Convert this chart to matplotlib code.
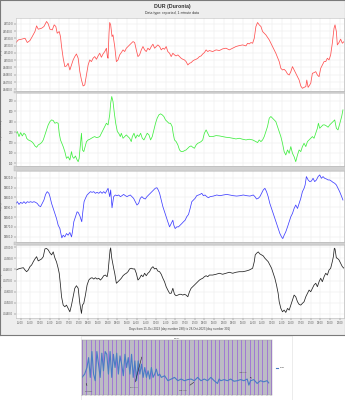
import matplotlib
matplotlib.use("Agg")
import matplotlib.pyplot as plt
from matplotlib.ticker import FixedLocator, MultipleLocator
from matplotlib.patches import Rectangle

# ---------------- data ----------------
title = "DUR (Duronia)"
subtitle = "Data type: reported, 1-minute data"
xlabel = "Days from 15-Oct-2023 (day number 288) to 28-Oct-2023 (day number 301)"

tick_hours = [4.8, 14.8, 24.8, 34.8, 44.8, 54.8, 64.8, 74.8, 84.8, 94.8, 104.8, 114.8,
              124.8, 134.8, 144.8, 154.8, 164.8, 174.8, 184.8, 194.8, 204.8, 214.8,
              224.8, 234.8, 244.8, 254.8, 264.8, 274.8, 284.8, 294.8, 304.8, 314.8,
              324.8, 334.8]
tick_labels = ["05:00", "15:00", "01:00", "11:00", "21:00", "07:00", "17:00", "03:00",
               "13:00", "23:00", "09:00", "19:00", "05:00", "15:00", "01:00", "11:00",
               "21:00", "07:00", "17:00", "03:00", "13:00", "23:00", "09:00", "19:00",
               "05:00", "15:00", "01:00", "11:00", "21:00", "07:00", "17:00", "03:00",
               "13:00", "23:00"]

H_hours = [0.0, 2.4, 5.8, 9.3, 11.7, 14.4, 16.8, 19.6, 21.3, 23.0, 26.5, 28.9, 31.6, 33.3,
           35.1, 37.5, 39.5, 41.2, 42.6, 44.7, 46.0, 47.1, 48.8, 50.5, 52.2, 53.9, 55.7,
           57.4, 59.1, 60.8, 62.5, 64.3, 66.0, 67.7, 69.4, 71.1, 72.9, 74.6, 76.3, 78.0,
           79.7, 81.4, 83.2, 84.9, 86.6, 88.3, 90.0, 91.8, 93.5, 94.5, 95.2, 96.2, 96.9,
           97.9, 99.3, 100.3, 102.1, 103.8, 105.5, 107.2, 108.9, 110.7, 112.4, 114.1,
           115.8, 117.5, 119.2, 121.0, 122.7, 124.4, 126.1, 127.8, 129.6, 131.3, 133.0,
           134.7, 136.4, 138.1, 139.9, 141.6, 143.3, 145.0, 146.7, 148.5, 150.2, 151.9,
           153.6, 155.3, 157.0, 158.8, 160.5, 162.2, 163.9, 165.6, 167.4, 169.1, 170.8,
           172.5, 174.2, 175.9, 177.7, 179.4, 181.1, 182.8, 184.5, 186.3, 188.0, 189.7,
           191.4, 193.1, 194.8, 196.6, 198.3, 200.0, 203.4, 206.9, 210.3, 213.7, 217.2,
           220.6, 224.1, 227.5, 230.9, 234.4, 237.8, 239.5, 241.2, 243.0, 244.7, 246.4,
           248.1, 249.8, 251.5, 253.3, 255.0, 258.4, 261.9, 265.3, 268.7, 272.2, 273.9,
           275.6, 277.3, 279.0, 280.8, 282.5, 284.2, 285.9, 287.6, 289.3, 291.1, 292.8,
           294.5, 296.2, 297.9, 299.7, 300.7, 302.1, 304.8, 306.5, 308.2, 310.0, 311.7,
           313.4, 315.1, 316.8, 318.6, 320.3, 322.0, 323.7, 325.4, 327.1, 328.9, 329.9,
           331.3, 332.3, 334.0, 335.7, 337.5, 339.2]
H_nT = [24524.3, 24527.9, 24528.9, 24530.2, 24524.3, 24527.0, 24532.5, 24539.4, 24547.2,
        24542.6, 24544.0, 24546.3, 24553.2, 24550.0, 24542.6, 24541.7, 24548.6, 24546.3,
        24537.1, 24539.4, 24532.5, 24518.8, 24502.7, 24491.2, 24492.1, 24495.8, 24486.6,
        24493.5, 24500.4, 24505.0, 24508.6, 24502.7, 24484.3, 24472.8, 24464.6, 24466.0,
        24479.7, 24493.5, 24500.4, 24498.1, 24502.7, 24505.0, 24501.3, 24505.9, 24509.6,
        24504.1, 24508.6, 24511.9, 24516.5, 24505.0, 24502.7, 24537.1, 24551.8, 24548.6,
        24532.5, 24534.8, 24518.8, 24498.1, 24500.4, 24507.3, 24510.5, 24514.2, 24511.9,
        24516.5, 24518.8, 24521.0, 24523.3, 24525.6, 24524.3, 24514.2, 24505.0, 24507.3,
        24514.2, 24518.8, 24514.2, 24511.9, 24516.5, 24514.2, 24518.8, 24522.0, 24516.5,
        24518.8, 24521.0, 24518.8, 24514.2, 24516.5, 24515.1, 24518.8, 24511.9, 24509.6,
        24505.0, 24509.6, 24507.3, 24505.9, 24507.3, 24505.0, 24502.7, 24501.3, 24500.4,
        24498.1, 24493.5, 24495.8, 24496.7, 24499.0, 24500.4, 24501.3, 24502.7, 24505.0,
        24505.9, 24508.6, 24510.5, 24514.2, 24511.9, 24513.3, 24511.9, 24514.2, 24513.3,
        24515.6, 24516.5, 24514.2, 24516.5, 24518.8, 24520.1, 24521.0, 24519.7, 24523.3,
        24522.4, 24524.3, 24523.3, 24530.2, 24546.3, 24551.8, 24548.6, 24546.3, 24539.4,
        24534.8, 24527.9, 24518.8, 24509.6, 24498.1, 24488.9, 24486.6, 24487.5, 24485.2,
        24481.1, 24479.7, 24484.3, 24491.2, 24486.6, 24482.0, 24477.4, 24472.8, 24464.6,
        24461.4, 24462.7, 24463.7, 24472.8, 24462.7, 24468.3, 24482.0, 24482.9, 24484.3,
        24479.7, 24477.4, 24488.9, 24493.5, 24498.1, 24498.1, 24502.7, 24500.4, 24507.3,
        24523.3, 24544.0, 24548.6, 24539.4, 24521.0, 24524.3, 24528.9, 24523.3, 24525.6]

D_hours = [0.0, 1.4, 3.1, 4.8, 6.5, 8.2, 10.0, 11.0, 12.7, 14.4, 16.2, 17.9, 19.6, 21.3,
           23.0, 24.7, 26.5, 28.2, 29.9, 31.6, 33.3, 35.1, 36.8, 38.5, 40.2, 41.9, 43.6,
           44.7, 46.0, 47.4, 48.8, 50.5, 52.2, 53.9, 55.7, 57.4, 58.4, 59.8, 61.5, 63.2,
           64.3, 65.3, 66.7, 67.7, 68.7, 70.1, 71.5, 72.9, 74.6, 76.3, 78.0, 79.7, 81.4,
           83.2, 84.9, 86.6, 88.3, 90.0, 91.8, 93.5, 95.2, 96.9, 97.9, 99.0, 100.3, 101.7,
           103.1, 104.8, 106.2, 107.9, 108.9, 110.7, 112.4, 114.1, 115.8, 117.5, 119.2,
           120.3, 122.0, 123.7, 125.4, 127.1, 128.9, 130.6, 132.3, 134.0, 135.7, 137.5,
           139.2, 140.9, 142.6, 144.3, 146.0, 147.8, 149.5, 151.2, 152.9, 154.6, 156.4,
           158.1, 159.8, 161.5, 162.5, 163.9, 165.6, 167.4, 169.1, 170.8, 172.5, 174.2,
           175.9, 177.7, 179.4, 181.1, 182.8, 184.5, 186.3, 188.0, 189.7, 191.4, 193.1,
           194.8, 196.6, 198.3, 200.0, 203.4, 206.9, 210.3, 213.7, 217.2, 220.6, 224.1,
           227.5, 230.9, 234.4, 237.8, 241.2, 244.7, 248.1, 249.8, 251.5, 253.3, 255.0,
           256.7, 258.4, 260.1, 261.9, 263.6, 265.3, 267.0, 268.7, 270.4, 272.2, 273.9,
           275.6, 277.3, 279.0, 280.8, 282.5, 284.2, 285.9, 287.6, 289.3, 291.1, 292.8,
           294.5, 296.2, 297.9, 299.7, 301.4, 303.1, 304.8, 306.5, 308.2, 310.0, 311.7,
           312.7, 314.1, 315.8, 317.5, 319.2, 321.0, 322.7, 324.4, 326.1, 327.8, 329.6,
           331.3, 333.0, 334.0, 335.4, 336.8, 338.1]
D_min = [217.8, 221.0, 211.4, 219.1, 212.7, 217.8, 214.6, 208.2, 205.0, 203.7, 201.8,
         198.6, 193.5, 190.9, 195.4, 197.3, 199.9, 205.0, 214.6, 224.2, 233.8, 240.2,
         243.4, 242.2, 237.0, 238.3, 237.0, 217.8, 205.0, 198.6, 192.2, 182.6, 169.7,
         172.9, 166.5, 182.6, 172.9, 169.7, 174.2, 166.5, 163.3, 169.7, 198.6, 217.8,
         185.8, 182.6, 192.2, 201.8, 205.0, 206.3, 208.2, 210.1, 211.4, 209.5, 210.1,
         211.4, 217.8, 224.2, 230.6, 237.0, 233.8, 253.1, 275.5, 288.3, 278.7, 256.3,
         237.0, 221.0, 217.8, 211.4, 217.8, 208.2, 211.4, 214.6, 211.4, 208.2, 201.8,
         211.4, 217.8, 208.2, 214.6, 211.4, 217.8, 208.2, 205.0, 211.4, 217.8, 214.6,
         205.0, 211.4, 224.2, 237.0, 246.7, 253.1, 255.0, 253.1, 249.9, 243.4, 240.2,
         237.0, 237.0, 230.6, 217.8, 205.0, 201.8, 195.4, 185.8, 182.6, 182.6, 184.5,
         185.8, 189.0, 192.2, 193.5, 190.9, 189.0, 195.4, 198.6, 199.9, 201.8, 205.0,
         217.8, 224.2, 217.8, 211.4, 211.4, 213.3, 212.7, 211.4, 210.1, 209.5, 208.2,
         206.9, 208.2, 206.3, 205.0, 206.3, 205.0, 201.8, 199.9, 205.0, 201.8, 205.0,
         211.4, 221.0, 230.6, 246.7, 249.9, 246.7, 243.4, 240.2, 230.6, 221.0, 211.4,
         198.6, 182.6, 176.2, 185.8, 179.4, 192.2, 179.4, 172.9, 163.3, 176.2, 185.8,
         182.6, 192.2, 198.6, 192.2, 201.8, 205.0, 208.2, 211.4, 208.2, 217.8, 227.4,
         237.0, 227.4, 230.6, 233.8, 233.8, 231.9, 229.4, 233.8, 237.0, 240.2, 243.4,
         227.4, 224.2, 230.6, 240.2, 249.9, 262.7]

Z_hours = [0.0, 1.4, 3.1, 4.8, 6.5, 8.2, 10.0, 11.7, 13.4, 15.1, 16.8, 18.6, 20.3, 22.0,
           23.7, 25.4, 27.1, 28.9, 30.6, 32.3, 34.0, 35.1, 36.8, 38.5, 40.2, 41.9, 43.6,
           45.4, 46.4, 47.4, 48.8, 50.5, 52.2, 53.9, 55.7, 57.4, 58.4, 59.8, 61.5, 63.2,
           64.3, 66.0, 67.4, 68.0, 69.1, 70.4, 71.8, 73.5, 75.3, 77.0, 78.7, 80.4, 82.1,
           83.8, 85.6, 87.3, 89.0, 90.7, 92.4, 94.2, 95.2, 96.2, 96.9, 97.9, 99.3, 101.0,
           102.7, 104.5, 106.2, 107.9, 109.6, 111.3, 113.1, 114.8, 116.5, 118.2, 119.9,
           121.6, 123.4, 125.1, 126.8, 128.5, 130.2, 132.0, 133.7, 135.4, 137.1, 138.8,
           140.5, 142.3, 144.0, 145.7, 147.1, 148.5, 150.2, 151.9, 153.6, 155.3, 157.0,
           158.8, 160.5, 162.2, 163.2, 164.6, 166.3, 168.0, 169.8, 171.5, 173.2, 174.9,
           176.6, 178.4, 180.1, 181.8, 183.5, 185.2, 186.9, 188.7, 190.4, 192.1, 193.8,
           195.5, 197.3, 199.0, 200.7, 204.1, 207.6, 211.0, 214.4, 217.9, 221.3, 224.7,
           228.2, 231.6, 235.1, 238.5, 241.9, 245.4, 247.1, 248.8, 250.5, 252.2, 254.0,
           255.7, 257.4, 259.1, 260.8, 262.5, 264.3, 266.0, 267.7, 269.4, 271.1, 272.9,
           274.6, 275.9, 277.3, 279.0, 280.8, 282.5, 284.2, 285.9, 287.6, 289.3, 291.1,
           292.8, 294.5, 296.2, 297.9, 299.0, 300.3, 302.1, 303.8, 305.5, 307.2, 308.9,
           310.7, 312.4, 314.1, 315.8, 317.5, 319.2, 321.0, 322.7, 324.4, 326.1, 327.8,
           329.6, 331.3, 333.0, 334.7, 336.4, 338.1]
Z_nT = [39593.8, 39595.6, 39592.8, 39594.9, 39593.8, 39595.6, 39593.8, 39595.6, 39594.9,
        39595.6, 39594.9, 39595.6, 39594.9, 39593.8, 39591.5, 39590.5, 39593.8, 39597.3,
        39603.0, 39605.8, 39604.1, 39600.7, 39593.8, 39588.7, 39583.6, 39578.5, 39571.7,
        39568.3, 39563.2, 39558.8, 39561.5, 39559.8, 39563.2, 39561.5, 39564.3, 39559.8,
        39565.0, 39575.2, 39580.3, 39585.3, 39584.7, 39581.3, 39576.8, 39575.2, 39585.3,
        39595.6, 39599.0, 39602.4, 39604.1, 39605.8, 39605.1, 39605.8, 39604.1, 39605.1,
        39604.1, 39605.8, 39604.1, 39605.8, 39604.1, 39607.5, 39609.2, 39604.1, 39600.7,
        39607.5, 39589.4, 39600.7, 39602.4, 39601.7, 39602.4, 39600.7, 39601.7, 39603.0,
        39601.7, 39600.7, 39601.7, 39602.4, 39600.7, 39599.0, 39595.6, 39592.2, 39593.8,
        39599.0, 39600.7, 39599.0, 39598.3, 39600.7, 39602.4, 39604.1, 39605.8, 39607.5,
        39609.2, 39609.8, 39607.5, 39604.1, 39597.3, 39590.5, 39585.3, 39580.3, 39575.2,
        39570.0, 39573.4, 39576.8, 39571.7, 39568.3, 39570.0, 39570.0, 39571.7, 39573.4,
        39575.2, 39576.8, 39580.3, 39582.6, 39588.7, 39595.6, 39597.3, 39599.0, 39601.7,
        39602.4, 39603.0, 39604.1, 39601.7, 39602.4, 39600.7, 39599.6, 39600.7, 39601.3,
        39602.4, 39601.7, 39602.4, 39603.0, 39602.4, 39601.7, 39601.3, 39601.7, 39602.4,
        39601.7, 39601.3, 39602.4, 39600.7, 39598.3, 39599.0, 39600.7, 39604.1, 39607.5,
        39609.2, 39605.8, 39600.7, 39593.8, 39588.7, 39583.6, 39578.5, 39573.4, 39568.3,
        39563.2, 39559.8, 39558.1, 39561.5, 39565.0, 39570.0, 39575.2, 39580.3, 39583.6,
        39588.7, 39592.2, 39588.7, 39593.8, 39599.0, 39605.8, 39609.2, 39612.6, 39621.1,
        39617.7, 39616.0, 39616.6, 39619.4, 39616.0, 39617.7, 39621.1, 39622.8, 39619.4,
        39621.1, 39619.4, 39618.7, 39617.7, 39617.7, 39616.6, 39615.3, 39614.3, 39612.6,
        39609.2, 39605.8, 39601.7, 39597.3]

F_hours = [0.0, 2.4, 4.8, 7.6, 9.3, 11.0, 12.7, 14.4, 16.2, 17.9, 19.6, 21.3, 23.0, 24.7,
           26.5, 28.2, 29.9, 31.6, 33.3, 35.1, 36.8, 38.5, 40.2, 41.9, 43.6, 44.7, 46.0,
           47.1, 48.8, 50.5, 52.2, 53.9, 55.7, 57.4, 59.1, 60.8, 62.5, 64.3, 66.0, 67.7,
           68.7, 70.1, 71.8, 73.5, 75.3, 77.0, 78.7, 80.4, 82.1, 83.8, 85.6, 87.3, 89.0,
           90.7, 92.4, 94.2, 95.2, 96.2, 97.3, 97.9, 99.0, 100.0, 101.0, 102.1, 103.8,
           105.5, 107.2, 108.9, 110.7, 112.4, 114.1, 115.8, 117.5, 119.2, 121.0, 122.7,
           124.4, 126.1, 127.8, 129.6, 131.3, 133.0, 134.7, 136.4, 138.1, 139.9, 141.6,
           143.3, 145.0, 146.7, 148.5, 150.2, 151.9, 153.6, 155.3, 157.0, 158.8, 160.5,
           162.2, 163.9, 165.6, 167.4, 169.1, 170.8, 172.5, 174.2, 175.9, 177.7, 179.4,
           181.1, 182.8, 184.5, 186.3, 188.0, 189.7, 191.4, 193.1, 194.8, 196.6, 198.3,
           200.0, 203.4, 206.9, 210.3, 213.7, 217.2, 220.6, 224.1, 227.5, 230.9, 234.4,
           237.8, 241.2, 244.7, 246.4, 247.4, 248.8, 250.5, 252.2, 254.0, 255.7, 257.4,
           259.1, 260.8, 262.5, 264.3, 266.0, 267.7, 269.4, 271.1, 272.2, 273.9, 275.6,
           277.3, 279.0, 280.8, 282.5, 284.2, 285.9, 287.6, 289.3, 291.1, 292.8, 294.5,
           296.2, 297.9, 299.7, 301.4, 303.1, 304.8, 306.5, 308.2, 310.0, 311.7, 313.4,
           315.1, 316.8, 318.6, 320.3, 322.0, 323.7, 325.4, 327.1, 328.2, 329.2, 329.9,
           331.3, 332.3, 334.0, 335.7, 337.5, 339.2]
F_nT = [46479.5, 46480.5, 46481.1, 46481.6, 46479.5, 46478.0, 46479.5, 46482.5, 46484.1,
        46487.0, 46489.5, 46491.5, 46487.7, 46488.6, 46489.5, 46491.5, 46498.5, 46498.9,
        46497.6, 46494.9, 46493.1, 46495.8, 46490.4, 46486.8, 46481.1, 46476.6, 46466.0,
        46455.5, 46448.0, 46446.5, 46448.0, 46445.0, 46442.0, 46448.0, 46455.5, 46463.1,
        46465.4, 46463.1, 46449.6, 46440.5, 46448.0, 46449.6, 46457.0, 46466.0, 46470.5,
        46472.1, 46472.6, 46471.4, 46472.6, 46471.4, 46472.1, 46470.5, 46472.1, 46474.4,
        46475.0, 46473.5, 46478.0, 46487.0, 46497.6, 46499.4, 46490.4, 46485.6, 46481.1,
        46476.6, 46467.6, 46469.0, 46470.5, 46472.1, 46474.4, 46475.7, 46476.6, 46478.0,
        46480.5, 46481.1, 46480.5, 46480.5, 46476.6, 46470.5, 46472.1, 46475.0, 46473.5,
        46476.6, 46474.4, 46476.6, 46478.0, 46481.1, 46482.5, 46480.5, 46481.1, 46478.6,
        46478.0, 46475.7, 46472.1, 46469.0, 46464.5, 46461.5, 46458.6, 46458.6, 46463.1,
        46457.7, 46456.4, 46457.0, 46457.7, 46457.7, 46457.0, 46457.7, 46457.0, 46455.5,
        46460.0, 46463.1, 46464.5, 46466.0, 46467.6, 46469.0, 46470.5, 46471.4, 46472.1,
        46473.5, 46474.4, 46473.5, 46475.0, 46475.0, 46475.7, 46476.6, 46475.7, 46476.6,
        46477.5, 46476.6, 46477.5, 46478.0, 46478.0, 46478.6, 46479.5, 46481.1, 46487.0,
        46493.1, 46494.6, 46495.8, 46494.0, 46493.1, 46492.2, 46490.1, 46488.6, 46487.0,
        46484.1, 46481.1, 46476.6, 46472.1, 46466.0, 46458.6, 46451.0, 46445.0, 46442.0,
        46443.5, 46441.4, 46445.0, 46443.5, 46448.0, 46452.5, 46457.0, 46455.5, 46451.0,
        46448.6, 46448.0, 46449.6, 46451.0, 46455.5, 46458.6, 46461.5, 46460.0, 46463.1,
        46466.0, 46467.6, 46464.5, 46469.0, 46472.1, 46469.0, 46473.5, 46476.6, 46475.0,
        46479.5, 46481.1, 46487.0, 46491.5, 46499.1, 46498.5, 46490.4, 46490.1, 46488.6,
        46485.6, 46482.5, 46481.1]

panels = [
    ("H (nT)", H_hours, H_nT, "#ff5050", [24460, 24470, 24480, 24490, 24500, 24510, 24520, 24530, 24540, 24550], (24457.7, 24558.0), "%.1f"),
    ("D (minutes east)", D_hours, D_min, "#40ee40", [160, 180, 200, 220, 240, 260, 280], (155.0, 295.0), "%d"),
    ("Z (nT)", Z_hours, Z_nT, "#4040ff", [39560, 39570, 39580, 39590, 39600, 39610, 39620], (39554.6, 39626.8), "%.1f"),
    ("S (scalar, nT)", F_hours, F_nT, "#222222", [46440, 46450, 46460, 46470, 46480, 46490, 46500], (46436.4, 46502.0), "%.1f"),
]

# embedded lower chart
emb_x = [0.0, 0.8, 1.5, 2.0, 2.5, 3.0, 3.5, 4.0, 4.5, 5.0, 5.5, 6.0, 6.5, 7.0, 7.5, 8.0,
         8.5, 9.0, 9.5, 10.0, 10.5, 11.0, 11.5, 12.0, 12.5, 13.0, 13.5, 14.0, 14.5, 15.0,
         15.5, 16.0, 16.5, 17.0, 17.5, 18.0, 18.5, 19.0, 19.5, 20.0, 20.5, 21.0, 21.5,
         22.0, 22.5, 23.0, 23.5, 24.0, 25.0, 26.0, 27.0, 28.0, 29.0, 30.0, 31.0, 32.0,
         33.0, 34.0, 35.0, 36.0, 37.0, 38.0, 39.0, 40.0, 41.0, 41.5, 42.0, 43.0, 44.0,
         45.0, 46.0, 47.0, 48.0, 49.0, 50.0, 50.5, 51.0, 52.0, 53.0, 54.0, 55.0, 56.0, 56.5]
emb_y = [32, 38, 50, 68, 32, 79, 38, 26, 79, 56, 32, 76, 44, 79, 74, 38, 79, 32, 74, 50,
         76, 38, 71, 56, 35, 74, 50, 68, 38, 74, 32, 62, 26, 62, 38, 56, 32, 50, 32, 44,
         29, 50, 32, 38, 47, 35, 38, 32, 35, 26, 29, 32, 26, 29, 26, 28, 29, 26, 32, 26,
         29, 26, 32, 26, 21, 29, 26, 28, 26, 29, 25, 26, 28, 26, 29, 18, 26, 28, 21, 26,
         24, 26, 22]
emb_series = "Serie1"

# ---------------- figure ----------------
W, H = 345.0, 400.0
plt.rcParams["font.family"] = ["Liberation Sans", "DejaVu Sans"]
fig = plt.figure(figsize=(3.45, 4.0), dpi=100)
fig.patch.set_facecolor("white")


def fx(px):
    return px / W


def fy(py):
    return 1 - py / H


# main chart backdrop
bg = fig.add_axes([0, fy(335), 1, 335 / H])
bg.set_facecolor("#eeeeee")
bg.set_xticks([]); bg.set_yticks([])
for s in bg.spines.values():
    s.set_color("#7a7a7a"); s.set_linewidth(0.8)
bg.set_zorder(-10)

# separator bands
for top, bot in [(91, 93), (166, 171), (242, 245)]:
    fig.patches.append(Rectangle((fx(14), fy(bot)), fx(331), (bot - top) / H,
                                 transform=fig.transFigure, facecolor="#d2d2d2",
                                 edgecolor="#b8b8b8", linewidth=0.3, zorder=-5))

fig.text(0.5, fy(6.5), title, ha="center", va="center", fontsize=3.8,
         fontweight="bold", color="#333333")
fig.text(0.5, fy(13), subtitle, ha="center", va="center", fontsize=2.5, color="#333333")

boxes = [(18, 91), (93, 166), (171, 242), (245, 318)]
axes = []
for (label, hx, vals, col, yt, ylim, fmt), (t, b) in zip(panels, boxes):
    ax = fig.add_axes([fx(16), fy(b), fx(328), (b - t) / H])
    ax.set_facecolor("white")
    ax.plot(hx, vals, color=col, linewidth=0.55)
    ax.set_xlim(0, 339.2)
    ax.set_ylim(*ylim)
    ax.yaxis.set_major_locator(FixedLocator(yt))
    ax.set_yticklabels([fmt % v for v in yt])
    ax.xaxis.set_major_locator(FixedLocator(tick_hours))
    ax.grid(True, color="#e6e6e6", linewidth=0.3)
    ax.tick_params(axis="both", labelsize=1.9, length=1.2, width=0.3, pad=0.8,
                   colors="#555555")
    ax.set_ylabel(label, fontsize=2.0, color="#555555", labelpad=1.5)
    ax.yaxis.set_label_coords(-0.04, 0.5)
    for s in ax.spines.values():
        s.set_color("#bbbbbb"); s.set_linewidth(0.4)
    axes.append(ax)

for ax in axes[:-1]:
    ax.tick_params(axis="x", labelbottom=False, length=0)
axes[-1].set_xticklabels(tick_labels)
axes[-1].tick_params(axis="x", labelsize=1.8, pad=1.2)
axes[-1].set_xlabel(xlabel, fontsize=2.2, color="#444444", labelpad=1.0)

# ---------------- embedded lower chart ----------------
eo = fig.add_axes([fx(81), 0, fx(211), fy(336)])
eo.set_facecolor("white")
eo.set_xticks([]); eo.set_yticks([])
for s in eo.spines.values():
    s.set_color("#dddddd"); s.set_linewidth(0.4)

ea = fig.add_axes([fx(82), fy(395), fx(190), (395 - 340) / H])
ea.set_facecolor("#bcbcc4")
ea.plot(emb_x, emb_y, color="#4a7cc4", linewidth=0.8, label=emb_series)
ea.set_xlim(0, 57.5)
ea.set_ylim(0, 100)
ea.xaxis.set_major_locator(MultipleLocator(1.3))
ea.yaxis.set_major_locator(MultipleLocator(100))
ea.grid(True, axis="x", color="#9a66d8", linewidth=0.55)
ea.tick_params(axis="x", labelsize=1.0, length=0.8, width=0.2, pad=0.4, colors="#555555")
ea.tick_params(axis="y", left=False, labelleft=False)
ea.set_xticklabels([])
for s in ea.spines.values():
    s.set_color("#999999"); s.set_linewidth(0.3)
ea.set_title(emb_series, fontsize=1.6, color="#555555", pad=0.8)
ea.annotate("Oct 2007", xy=(1.0, 26), xytext=(1.0, 5), fontsize=1.3, color="#333333",
            arrowprops=dict(arrowstyle="-", color="#222222", lw=0.4))
ea.annotate("Mar 2009", xy=(18.3, 74), xytext=(14.5, 12), fontsize=1.3, color="#333333",
            arrowprops=dict(arrowstyle="-", color="#222222", lw=0.4))
ea.annotate("Feb 2015", xy=(34.5, 26), xytext=(29.5, 8), fontsize=1.3, color="#333333",
            arrowprops=dict(arrowstyle="-", color="#222222", lw=0.4))
ea.annotate("Jan 2020", xy=(52.0, 28), xytext=(47.5, 40), fontsize=1.3, color="#333333",
            arrowprops=dict(arrowstyle="-", color="#222222", lw=0.4))
leg = ea.legend(loc="center left", bbox_to_anchor=(1.01, 0.5), fontsize=1.3,
                frameon=False, handlelength=1.5)

fig.savefig("out.png", dpi=100, facecolor=fig.get_facecolor())
